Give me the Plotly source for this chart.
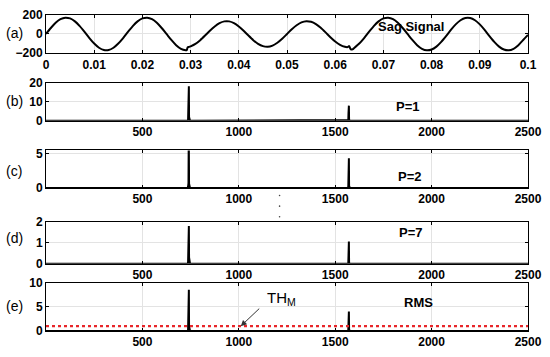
import numpy as np
import plotly.graph_objects as go

# ---------------- data ----------------
# (a) sag signal (time in s, value)
sag_t = [0.000, 0.001, 0.002, 0.003, 0.004, 0.005, 0.006, 0.007, 0.008, 0.009,
         0.010, 0.011, 0.012, 0.013, 0.014, 0.015, 0.016, 0.017, 0.018, 0.019,
         0.020, 0.021, 0.022, 0.023, 0.024, 0.025, 0.026, 0.027, 0.028, 0.029,
         0.0292, 0.0294, 0.0297, 0.030, 0.031, 0.032, 0.033, 0.034, 0.035, 0.036,
         0.037, 0.038, 0.039, 0.040, 0.041, 0.042, 0.043, 0.044, 0.045, 0.046,
         0.047, 0.048, 0.049, 0.050, 0.051, 0.052, 0.053, 0.054, 0.055, 0.056,
         0.057, 0.058, 0.059, 0.060, 0.061, 0.062, 0.0626, 0.0629, 0.0632, 0.0636,
         0.064, 0.065, 0.066, 0.067, 0.068, 0.069, 0.070, 0.071, 0.072, 0.073,
         0.074, 0.075, 0.076, 0.077, 0.078, 0.079, 0.080, 0.081, 0.082, 0.083,
         0.084, 0.085, 0.086, 0.087, 0.088, 0.089, 0.090, 0.091, 0.092, 0.093,
         0.094, 0.095, 0.096, 0.097, 0.098, 0.099, 0.100]
sag_v = [0, 63, 118, 156, 172, 164, 133, 83, 22, -43,
         -101, -145, -169, -169, -145, -101, -43, 22, 83, 133,
         164, 172, 156, 118, 63, 0, -63, -118, -156, -172,
         -172, -140, -136, -130, -104, -65, -17, 34, 79, 114,
         133, 133, 114, 79, 34, -17, -65, -104, -128, -135,
         -122, -92, -50, 0, 50, 92, 122, 135, 128, 104,
         65, 17, -34, -79, -114, -135, -138, -128, -160, -162,
         -145, -101, -43, 22, 83, 133, 164, 172, 156, 118,
         63, 0, -63, -118, -156, -172, -164, -133, -83, -22,
         43, 101, 145, 169, 169, 145, 101, 43, -22, -83,
         -133, -164, -172, -156, -118, -63, -10]

# spectra: spike bins and magnitudes for each panel
n_bins = 2501
b_bins = [737, 738, 739, 740, 741, 742, 743, 1568, 1569, 1570, 1571, 1572]
b_vals = [0.5, 8.7, 8.7, 18.3, 18.3, 2.0, 0.5, 0.3, 4.0, 8.0, 8.0, 0.5]
c_bins = [737, 738, 739, 740, 741, 742, 743, 1568, 1569, 1570, 1571, 1572]
c_vals = [0.2, 0.7, 0.7, 5.6, 5.6, 0.6, 0.2, 0.3, 1.4, 4.3, 4.3, 0.3]
d_bins = [737, 738, 739, 740, 741, 742, 743, 1568, 1569, 1570, 1571, 1572]
d_vals = [0.1, 1.3, 1.3, 1.79, 1.79, 0.3, 0.05, 0.05, 0.68, 1.05, 1.05, 0.05]
e_bins = [737, 738, 739, 740, 741, 742, 743, 1568, 1569, 1570, 1571, 1572]
e_vals = [0.3, 4.5, 4.5, 8.6, 8.6, 1.0, 0.3, 0.3, 2.0, 4.06, 4.06, 0.3]
th_m = 1.0

x_ticks_a = [0, 0.01, 0.02, 0.03, 0.04, 0.05, 0.06, 0.07, 0.08, 0.09, 0.1]
x_ticktext_a = ["0", "0.01", "0.02", "0.03", "0.04", "0.05", "0.06", "0.07", "0.08", "0.09", "0.1"]
x_ticks_s = [500, 1000, 1500, 2000, 2500]
y_ticks = {
    "a": [-200, 0, 200],
    "b": [0, 10, 20],
    "c": [0, 5],
    "d": [0, 1, 2],
    "e": [0, 5, 10],
}
panel_text = {"b": "P=1", "c": "P=2", "d": "P=7", "e": "RMS"}


def spectrum(bins, vals):
    y = np.zeros(n_bins)
    for b, v in zip(bins, vals):
        y[b] = v
    return y


xs = np.arange(n_bins)

# ---------------- figure ----------------
W, H = 550, 357
ML, MR, MT, MB = 46, 17, 8, 20
plot_h = H - MT - MB


def dom(top_px, bot_px):
    return [(H - MB - bot_px) / plot_h, (H - MB - top_px) / plot_h]


domains = {
    "a": dom(8, 48),
    "b": dom(79, 118),
    "c": dom(149, 188),
    "d": dom(223, 267),
    "e": dom(287, 337),
}
yranges = {"a": [-205, 200], "b": [0, 20], "c": [0, 5.42], "d": [0, 2], "e": [0, 10]}

fig = go.Figure()
FONT = "Liberation Sans, Arial, sans-serif"

fig.add_trace(go.Scatter(x=sag_t, y=sag_v, mode="lines", line=dict(color="black", width=2, shape="spline", smoothing=0.7),
                         xaxis="x", yaxis="y", showlegend=False))

spec = {"b": (b_bins, b_vals), "c": (c_bins, c_vals), "d": (d_bins, d_vals), "e": (e_bins, e_vals)}
axis_idx = {"a": "", "b": "2", "c": "3", "d": "4", "e": "5"}
for k, (bb, vv) in spec.items():
    i = axis_idx[k]
    fig.add_trace(go.Scatter(x=xs, y=spectrum(bb, vv), mode="lines", line=dict(color="black", width=2),
                             xaxis="x" + i, yaxis="y" + i, showlegend=False))

fig.add_trace(go.Scatter(x=[0, 2500], y=[th_m, th_m], mode="lines",
                         line=dict(color="#e8262a", width=2.2, dash="dot"),
                         xaxis="x5", yaxis="y5", showlegend=False))

layout = dict(width=W, height=H, margin=dict(l=ML, r=MR, t=MT, b=MB),
              paper_bgcolor="white", plot_bgcolor="white", showlegend=False,
              font=dict(family=FONT, size=12, color="black"))

axis_common = dict(showline=True, linecolor="black", linewidth=1, mirror="ticks", ticks="inside",
                   ticklen=3, tickcolor="black", showgrid=True, gridcolor="#e3e3e3", gridwidth=1,
                   zeroline=False, tickfont=dict(family=FONT, size=12, weight="bold", color="black"))

for k in ["a", "b", "c", "d", "e"]:
    i = axis_idx[k]
    xa = dict(axis_common, domain=[0, 1], anchor="y" + i, ticklabeloverflow="allow")
    if k == "a":
        xa.update(range=[0, 0.1], tickvals=x_ticks_a, ticktext=x_ticktext_a)
    else:
        xa.update(range=[0, 2500], tickvals=x_ticks_s)
    ya = dict(axis_common, domain=domains[k], anchor="x" + i, range=yranges[k], tickvals=y_ticks[k])
    layout["xaxis" + i] = xa
    layout["yaxis" + i] = ya

fig.update_layout(**layout)

# panel labels (a)-(e)
label_y_px = {"a": 27, "b": 98, "c": 170, "d": 240, "e": 311}
for k, ypx in label_y_px.items():
    fig.add_annotation(text="(" + k + ")", xref="paper", yref="paper",
                       x=(4 - ML) / (W - ML - MR), y=(H - MB - ypx) / plot_h,
                       xanchor="left", yanchor="middle", showarrow=False,
                       font=dict(family=FONT, size=14, color="black"))

fig.add_annotation(text="Sag Signal", x=0.0758, y=75, xref="x", yref="y", showarrow=False,
                   font=dict(family=FONT, size=13, weight="bold", color="black"))
txt_pos = {"b": (1879, 7.7), "c": (1889, 1.7), "d": (1894, 1.5), "e": (1930, 6.0)}
for k, (tx, ty) in txt_pos.items():
    i = axis_idx[k]
    fig.add_annotation(text=panel_text[k], x=tx, y=ty, xref="x" + i, yref="y" + i, showarrow=False,
                       font=dict(family=FONT, size=13, weight="bold", color="black"))

# TH_M label and arrow
fig.add_annotation(text="TH<sub>M</sub>", x=1220, y=6.8, xref="x5", yref="y5", showarrow=False,
                   font=dict(family=FONT, size=15, color="black"))
fig.add_annotation(text="", x=1010, y=th_m, xref="x5", yref="y5", showarrow=True,
                   ax=20, ay=-19, arrowhead=2, arrowsize=1.2, arrowwidth=1, arrowcolor="#333333",
                   standoff=0)

# vertical ellipsis between (c) and (d)
for ypx in [196, 207, 218]:
    cx = (282 - ML) / (W - ML - MR)
    cy = (H - MB - ypx) / plot_h
    rx = 0.8 / (W - ML - MR)
    ry = 0.8 / plot_h
    fig.add_shape(type="circle", xref="paper", yref="paper", x0=cx - rx, x1=cx + rx, y0=cy - ry, y1=cy + ry,
                  fillcolor="#444444", line=dict(width=0))

fig.write_html("out.html", config={"displayModeBar": False},
               post_script="document.body.style.margin='0';document.body.style.overflow='hidden';")
